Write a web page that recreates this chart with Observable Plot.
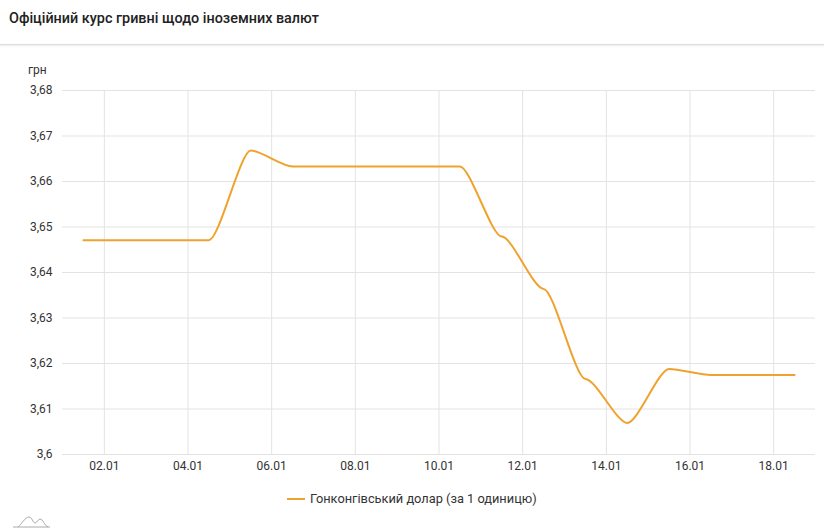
<!DOCTYPE html>
<html>
<head>
<meta charset="utf-8">
<script src="https://cdn.jsdelivr.net/npm/d3@7"></script>
<script src="https://cdn.jsdelivr.net/npm/@observablehq/plot@0.6"></script>
<style>
  html, body { margin: 0; padding: 0; background: #fff; }
  body { width: 824px; height: 530px; position: relative; overflow: hidden; font-family: Roboto, "Noto Sans", sans-serif; }
  #title { position: absolute; left: 9px; top: 10px; font-size: 14.4px; font-weight: 500; color: #222; }
  #rule { position: absolute; left: 0; top: 44px; width: 824px; height: 1px; background: #ddd; box-shadow: 0 1px 2px rgba(0,0,0,0.12); }
  #unit { position: absolute; left: 28px; top: 63px; font-size: 12px; color: #333; }
  #chart { position: absolute; left: 0; top: 0; }
  #legend { position: absolute; left: 287px; top: 491px; font-size: 12.8px; color: #333; display: flex; align-items: center; }
  #legend .sw { width: 18px; height: 2px; background: #f0a22e; margin-right: 5px; }
  #logo { position: absolute; left: 12px; top: 514px; }
</style>
</head>
<body>
<div id="title">Офіційний курс гривні щодо іноземних валют</div>
<div id="rule"></div>
<div id="unit">грн</div>
<div id="chart"></div>
<div id="legend"><span class="sw"></span><span>Гонконгівський долар (за 1 одиницю)</span></div>
<svg id="logo" width="40" height="16"><path d="M1,13 L38,13 M6,13 C10,10 13,3 17,3 C20,3 21,9 23,9 C25,9 26,5 28,5 C31,5 32,11 36,13" fill="none" stroke="#aaa" stroke-width="1"/></svg>
<script>
const seriesName = "Гонконгівський долар (за 1 одиницю)";
const days = ["01.01","02.01","03.01","04.01","05.01","06.01","07.01","08.01","09.01","10.01","11.01","12.01","13.01","14.01","15.01","16.01","17.01","18.01"];
const rates = [3.6471,3.6471,3.6471,3.6471,3.6668,3.6633,3.6633,3.6633,3.6633,3.6633,3.6479,3.6364,3.6166,3.6069,3.6188,3.6175,3.6175,3.6175];
const yTicks = [3.6,3.61,3.62,3.63,3.64,3.65,3.66,3.67,3.68];
const xTickDays = ["02.01","04.01","06.01","08.01","10.01","12.01","14.01","16.01","18.01"];

const parseDay = (s, h) => { const [d, m] = s.split(".").map(Number); return new Date(Date.UTC(2022, m - 1, d, h)); };
const data = days.map((d, i) => ({date: parseDay(d, 12), rate: rates[i]}));
const xTicks = xTickDays.map(d => parseDay(d, 0));
const fmtY = v => String(+v.toFixed(2)).replace(".", ",");

// smoothing with horizontal tangents at each point and short handles
const SMOOTH = 0.25;
function curveFlatHandles(context) {
  let pts = [];
  return {
    areaStart() {}, areaEnd() {},
    lineStart() { pts = []; },
    point(x, y) { pts.push([+x, +y]); },
    lineEnd() {
      if (!pts.length) return;
      context.moveTo(pts[0][0], pts[0][1]);
      for (let i = 1; i < pts.length; i++) {
        const [x0, y0] = pts[i - 1], [x1, y1] = pts[i];
        const h = SMOOTH * (x1 - x0);
        context.bezierCurveTo(x0 + h, y0, x1 - h, y1, x1, y1);
      }
    }
  };
}

const chart = Plot.plot({
  width: 824,
  height: 480,
  marginLeft: 62,
  marginRight: 9,
  marginTop: 90,
  marginBottom: 26,
  style: {fontFamily: "Roboto, 'Noto Sans', sans-serif", fontSize: "12px", color: "#333", background: "transparent"},
  x: {type: "utc", domain: [parseDay("01.01", 0), parseDay("19.01", 0)], ticks: xTicks, tickFormat: d3.utcFormat("%d.%m"), tickSize: 0, tickPadding: 7, label: null},
  y: {domain: [3.6, 3.68], ticks: yTicks, tickFormat: fmtY, tickSize: 0, tickPadding: 10, label: null},
  marks: [
    Plot.gridX(xTicks, {stroke: "#e3e3e3", strokeOpacity: 1}),
    Plot.gridY(yTicks, {stroke: "#e3e3e3", strokeOpacity: 1}),
    Plot.axisX({ticks: xTicks, tickFormat: d3.utcFormat("%d.%m"), tickSize: 0, tickPadding: 7, label: null}),
    Plot.axisY({ticks: yTicks, tickFormat: fmtY, tickSize: 0, tickPadding: 10, label: null}),
    Plot.line(data, {x: "date", y: "rate", stroke: "#f0a22e", strokeWidth: 2, curve: curveFlatHandles})
  ]
});
document.getElementById("chart").appendChild(chart);
</script>
</body>
</html>
